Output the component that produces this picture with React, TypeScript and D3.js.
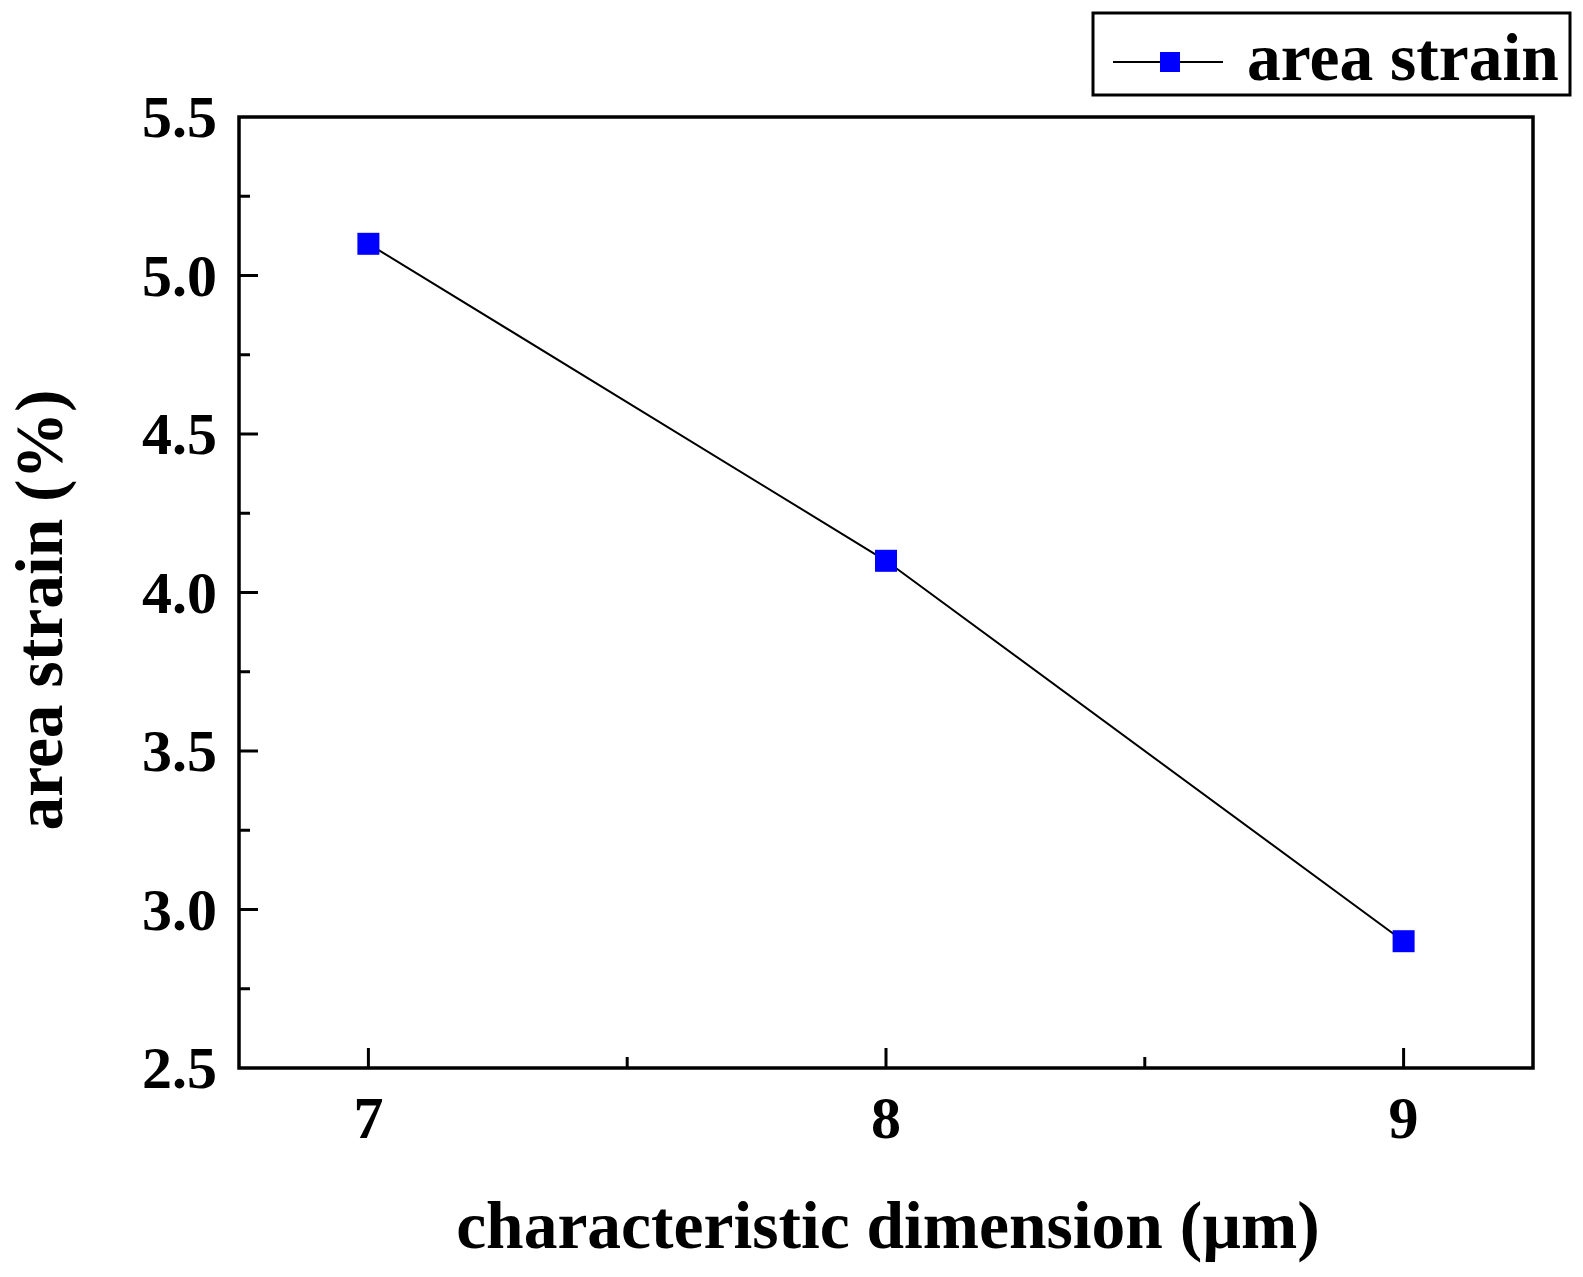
import React, { useEffect, useRef } from 'react';
import * as d3 from 'd3';

// characteristic dimension (µm) vs area strain (%)
const dimensions = [7, 8, 9];
const areaStrain = [5.1, 4.1, 2.9];
const xTicks = [7, 8, 9];
const yTicks = [2.5, 3.0, 3.5, 4.0, 4.5, 5.0, 5.5];
const seriesName = 'area strain';

const WIDTH = 1583;
const HEIGHT = 1277;
const margin = { top: 117, right: 50, bottom: 209, left: 239 };
const FONT = '"Liberation Serif", "Times New Roman", serif';

export default function App() {
  const svgRef = useRef<SVGSVGElement>(null);

  useEffect(() => {
    if (!svgRef.current) return;
    const svg = d3.select(svgRef.current);
    svg.selectAll('*').remove();

    const x0 = margin.left;
    const x1 = WIDTH - margin.right;
    const y0 = margin.top;
    const y1 = HEIGHT - margin.bottom;

    const x = d3.scaleLinear().domain([6.75, 9.25]).range([x0, x1]);
    const y = d3.scaleLinear().domain([2.5, 5.5]).range([y1, y0]);

    svg.append('rect')
      .attr('width', WIDTH)
      .attr('height', HEIGHT)
      .attr('fill', '#ffffff');

    // minor + major ticks pointing inward
    const g = svg.append('g').attr('stroke', '#000').attr('stroke-width', 3);
    const xMinor = d3.range(7, 9.01, 0.5);
    xMinor.forEach(v => {
      const major = xTicks.includes(v);
      g.append('line')
        .attr('x1', x(v)).attr('x2', x(v))
        .attr('y1', y1).attr('y2', y1 - (major ? 20 : 11));
    });
    const yMinor = d3.range(2.75, 5.5, 0.25);
    yMinor.forEach(v => {
      const major = yTicks.some(t => Math.abs(t - v) < 1e-6);
      g.append('line')
        .attr('x1', x0).attr('x2', x0 + (major ? 19 : 11))
        .attr('y1', y(v)).attr('y2', y(v));
    });

    // frame
    svg.append('rect')
      .attr('x', x0).attr('y', y0)
      .attr('width', x1 - x0).attr('height', y1 - y0)
      .attr('fill', 'none')
      .attr('stroke', '#000')
      .attr('stroke-width', 3.5);

    // tick labels
    svg.append('g')
      .selectAll('text')
      .data(xTicks)
      .enter()
      .append('text')
      .attr('x', d => x(d))
      .attr('y', 1138)
      .attr('text-anchor', 'middle')
      .style('font-family', FONT)
      .style('font-weight', 'bold')
      .style('font-size', '60px')
      .text(d => d3.format('d')(d));

    svg.append('g')
      .selectAll('text')
      .data(yTicks)
      .enter()
      .append('text')
      .attr('x', 217)
      .attr('y', d => y(d) + 20)
      .attr('text-anchor', 'end')
      .style('font-family', FONT)
      .style('font-weight', 'bold')
      .style('font-size', '60px')
      .text(d => d3.format('.1f')(d));

    // axis titles
    svg.append('text')
      .attr('x', 888)
      .attr('y', 1248)
      .attr('text-anchor', 'middle')
      .style('font-family', FONT)
      .style('font-weight', 'bold')
      .style('font-size', '67.5px')
      .text('characteristic dimension (µm)');

    svg.append('text')
      .attr('transform', `translate(62, 610) rotate(-90)`)
      .attr('text-anchor', 'middle')
      .style('font-family', FONT)
      .style('font-weight', 'bold')
      .style('font-size', '67.5px')
      .text('area strain (%)');

    // data line + markers
    const pts = dimensions.map((d, i) => [d, areaStrain[i]] as [number, number]);
    const line = d3.line<[number, number]>()
      .x(d => x(d[0]))
      .y(d => y(d[1]));

    svg.append('path')
      .datum(pts)
      .attr('d', line)
      .attr('fill', 'none')
      .attr('stroke', '#000')
      .attr('stroke-width', 2);

    const ms = 22;
    svg.append('g')
      .selectAll('rect')
      .data(pts)
      .enter()
      .append('rect')
      .attr('x', d => x(d[0]) - ms / 2)
      .attr('y', d => y(d[1]) - ms / 2)
      .attr('width', ms)
      .attr('height', ms)
      .attr('fill', '#0000ff');

    // legend
    const lg = svg.append('g');
    lg.append('rect')
      .attr('x', 1093).attr('y', 13)
      .attr('width', 477).attr('height', 82)
      .attr('fill', '#fff')
      .attr('stroke', '#000')
      .attr('stroke-width', 3);
    lg.append('line')
      .attr('x1', 1113).attr('x2', 1223)
      .attr('y1', 62).attr('y2', 62)
      .attr('stroke', '#000')
      .attr('stroke-width', 2);
    lg.append('rect')
      .attr('x', 1170 - 10).attr('y', 62 - 10)
      .attr('width', 20).attr('height', 20)
      .attr('fill', '#0000ff');
    lg.append('text')
      .attr('x', 1247)
      .attr('y', 80)
      .style('font-family', FONT)
      .style('font-weight', 'bold')
      .style('font-size', '67.5px')
      .text(seriesName);
  }, []);

  return (
    <svg
      ref={svgRef}
      width={WIDTH}
      height={HEIGHT}
      style={{ position: 'absolute', left: 0, top: 0, display: 'block' }}
    />
  );
}
